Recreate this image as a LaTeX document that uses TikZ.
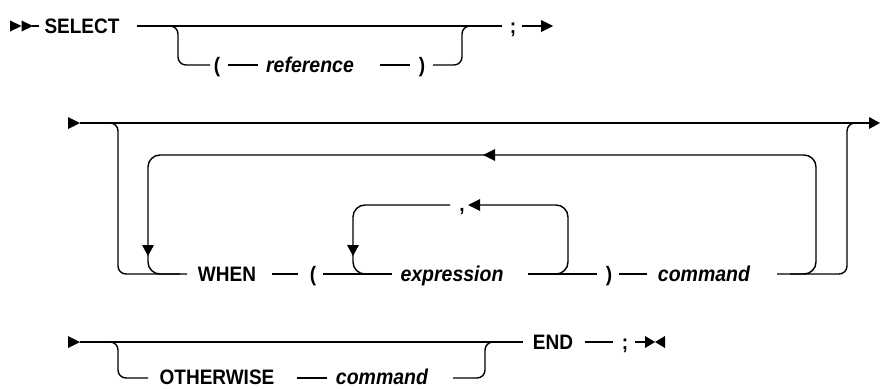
\documentclass[tikz,border=0pt]{standalone}
\usepackage{fontspec}
\setmainfont{Liberation Sans}
\usetikzlibrary{arrows.meta}
\newcommand\rrtext[1]{\scalebox{1}[1.1]{#1}}
\begin{document}
\begin{tikzpicture}[x=1pt,y=-1pt,
  kw/.style={font=\fontsize{19}{19}\selectfont\bfseries, inner sep=0pt, anchor=base, yshift=-7.3pt},
  var/.style={kw, font=\fontsize{19.5}{19.5}\selectfont\bfseries\itshape},
  rail/.style={line width=1.4pt, line cap=butt},
  loopline/.style={rail, rounded corners=12pt},
  branch/.style={rail, rounded corners=8pt},
  tip/.style={fill=black, draw=none}]
\useasboundingbox (0,0) rectangle (880,388);

% ---------- Row 1 ----------
\fill[tip] (10,20.5) -- (21.5,26) -- (10,31.5) -- cycle;
\fill[tip] (21.5,20.5) -- (33,26) -- (21.5,31.5) -- cycle;
\draw[rail] (32,26) -- (39,26);
\node[kw] (select) at (82,26) {\rrtext{SELECT}};
\draw[rail] (137,26) -- (502,26);
\draw[branch] (170,26) -- (178,26) -- (178,65) -- (210,65);
\node[kw] (lp1) at (217,65) {\rrtext{(}};
\draw[rail] (228,65) -- (258,65);
\node[var] (ref) at (310,65) {\rrtext{reference}};
\draw[rail] (380,65) -- (410,65);
\node[kw] (rp1) at (422,65) {\rrtext{)}};
\draw[branch] (433,65) -- (462,65) -- (462,26) -- (470,26);
\node[kw] (semi1) at (513,26) {\rrtext{;}};
\draw[rail] (522,26) -- (542,26);
\fill[tip] (541,20) -- (553,26) -- (541,32) -- cycle;

% ---------- Row 2 ----------
\fill[tip] (68,117) -- (80,123) -- (68,129) -- cycle;
\draw[rail] (80,123) -- (870,123);
\fill[tip] (869,117) -- (880,123) -- (869,129) -- cycle;
\draw[branch] (110,123) -- (118,123) -- (118,274) -- (187,274);
\draw[loopline] (790,274) -- (816,274) -- (816,155) -- (148,155) -- (148,274) -- (180,274);
\fill[tip] (483,155) -- (495,149) -- (495,161) -- cycle;
\fill[tip] (148,256) -- (142,245) -- (154,245) -- cycle;
\node[kw] (when) at (227,274) {\rrtext{WHEN}};
\draw[rail] (272,274) -- (298,274);
\node[kw] (lp2) at (313,274) {\rrtext{(}};
\draw[rail] (323,274) -- (392,274);
\draw[loopline] (450,205) -- (353,205) -- (353,274) -- (380,274);
\fill[tip] (353,256) -- (347,245) -- (359,245) -- cycle;
\node[kw] (comma) at (462,204) {\rrtext{,}};
\draw[loopline] (545,274) -- (568,274) -- (568,205) -- (480,205);
\fill[tip] (468,205) -- (480,199) -- (480,211) -- cycle;
\node[var] (expr) at (452,274) {\rrtext{expression}};
\draw[rail] (528,274) -- (597,274);
\node[kw] (rp2) at (609,274) {\rrtext{)}};
\draw[rail] (619,274) -- (647,274);
\node[var] (cmd1) at (704,274) {\rrtext{command}};
\draw[branch] (777,274) -- (847,274) -- (847,123) -- (855,123);

% ---------- Row 3 ----------
\fill[tip] (68,336) -- (80,342) -- (68,348) -- cycle;
\draw[rail] (80,342) -- (523,342);
\draw[branch] (110,342) -- (118,342) -- (118,378) -- (148,378);
\node[kw] (other) at (217,377) {\rrtext{OTHERWISE}};
\draw[rail] (297,378) -- (327,378);
\node[var] (cmd2) at (382,377) {\rrtext{command}};
\draw[branch] (453,378) -- (485,378) -- (485,342) -- (493,342);
\node[kw] (endkw) at (553,342) {\rrtext{END}};
\draw[rail] (585,342) -- (613,342);
\node[kw] (semi2) at (625,342) {\rrtext{;}};
\draw[rail] (635,342) -- (645,342);
\fill[tip] (645,336) -- (655,342) -- (645,348) -- cycle;
\fill[tip] (665,336) -- (655,342) -- (665,348) -- cycle;
\end{tikzpicture}
\end{document}
